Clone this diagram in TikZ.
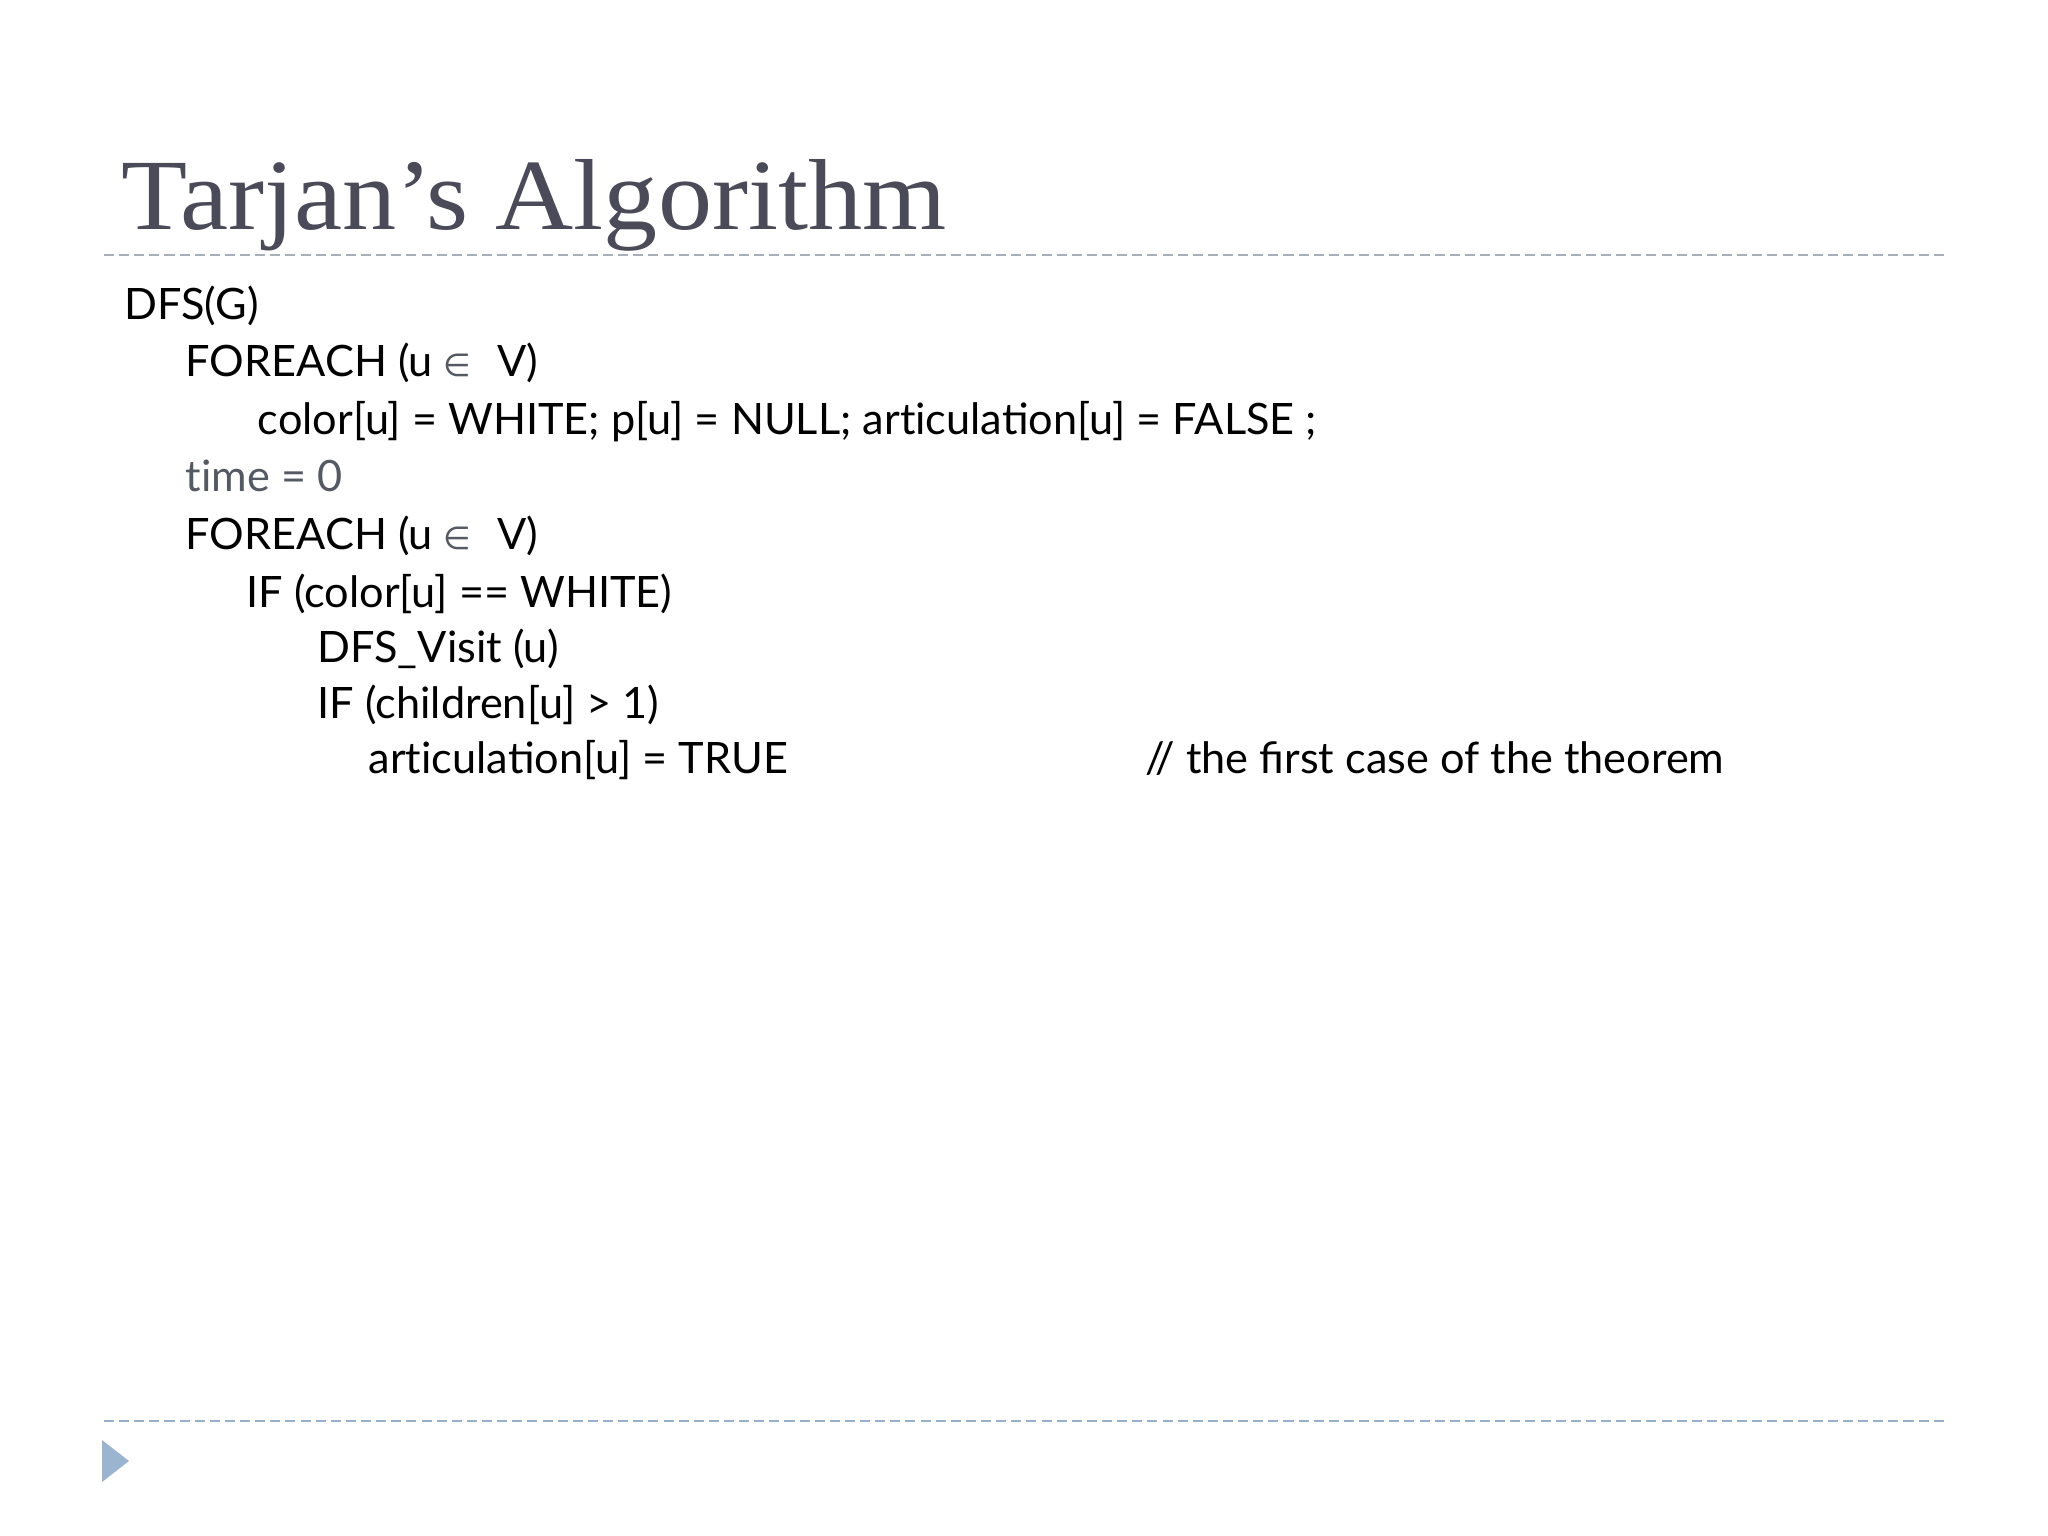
\documentclass[tikz,border=0pt]{standalone}
\usepackage{fontspec}
\setmainfont{Lato}
\newfontfamily\titlefont{Liberation Serif}
\newfontfamily\symf{DejaVu Sans}
\definecolor{titlecol}{HTML}{4A4A58}
\definecolor{topdash}{HTML}{A9AFB8}
\definecolor{botdash}{HTML}{98AFC8}
\definecolor{tricol}{HTML}{9BB4CF}
\definecolor{graytext}{HTML}{555A62}
\tikzset{
  code/.style={anchor=base west, inner sep=0pt, font=\fontsize{12.3}{14}\selectfont, text=black},
  titletext/.style={anchor=base west, inner sep=0pt, font=\titlefont\fontsize{28.7}{32}\selectfont, text=titlecol},
  rule/.style={line width=0.57pt, dash pattern=on 2.85pt off 1.45pt}
}
\newcommand{\elem}{{\color{graytext}\symf\fontsize{9}{10}\selectfont ∈}}
\newcommand{\tI}{\mbox{t}i}
\begin{document}
\begin{tikzpicture}[x=0.01cm,y=-0.01cm]
\useasboundingbox[fill=white] (0,0) rectangle (2048,1536);
\node[titletext, xscale=1.072] (title) at (121,229) {Tarjan’s Algorithm};
\coordinate (t1) at (104,255);
\coordinate (t2) at (1946,255);
\draw[rule, topdash] (t1) -- (t2);
\node[code] (l1) at (124,319) {DFS(G)};
\node[code] (l2) at (185,376) {FOREACH (u \elem\hspace{0.6em}V)};
\node[code] (l3) at (257,434) {color[u] = WHITE; p[u] = NULL; ar\tI culation[u] = FALSE ;};
\node[code, text=graytext] (l4) at (185,491) {\tI me = 0};
\node[code] (l5) at (185,549) {FOREACH (u \elem\hspace{0.6em}V)};
\node[code] (l6) at (246,607) {IF (color[u] == WHITE)};
\node[code] (l7) at (317,662) {DFS\_Visit (u)};
\node[code] (l8) at (317,718) {IF (children[u] > 1)};
\node[code] (l9) at (368,773) {ar\tI culation[u] = TRUE};
\node[code] (c9) at (1145,773) {// the first case of the theorem};
\coordinate (b1) at (104,1421);
\coordinate (b2) at (1946,1421);
\draw[rule, botdash] (b1) -- (b2);
\fill[tricol] (102,1440) -- (102,1482) -- (129,1461) -- cycle;
\end{tikzpicture}
\end{document}
